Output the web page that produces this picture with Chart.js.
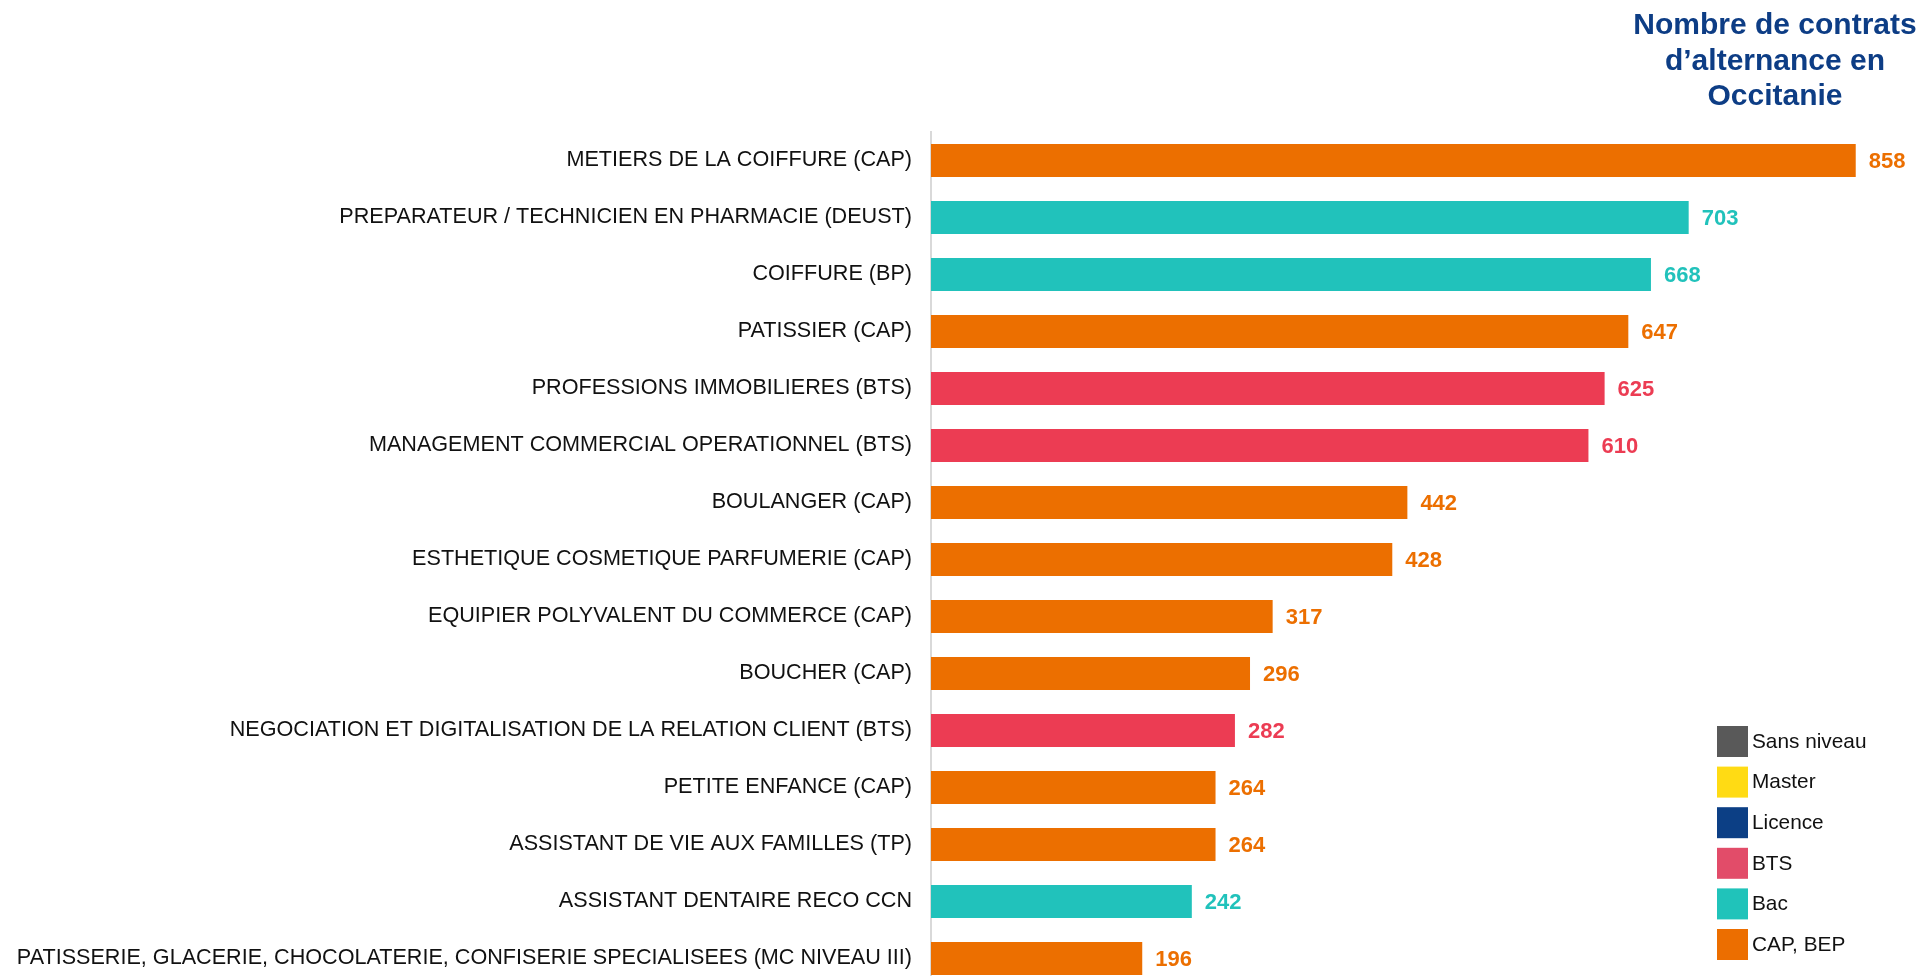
<!DOCTYPE html>
<html>
<head>
<meta charset="utf-8">
<script src="https://cdn.jsdelivr.net/npm/chart.js@4/dist/chart.umd.min.js"></script>
<style>
  html, body { margin: 0; padding: 0; background: #fff; overflow: hidden; }
  #wrap { position: relative; width: 1916px; height: 976px; overflow: hidden; }
  #c { position: absolute; left: 0; top: 0; width: 1916px; height: 1019px; }
</style>
</head>
<body>
<div id="wrap"><canvas id="c" width="1916" height="1019"></canvas></div>
<script>
const categories = [
  "METIERS DE LA COIFFURE (CAP)",
  "PREPARATEUR / TECHNICIEN EN PHARMACIE (DEUST)",
  "COIFFURE (BP)",
  "PATISSIER (CAP)",
  "PROFESSIONS IMMOBILIERES (BTS)",
  "MANAGEMENT COMMERCIAL OPERATIONNEL (BTS)",
  "BOULANGER (CAP)",
  "ESTHETIQUE COSMETIQUE PARFUMERIE (CAP)",
  "EQUIPIER POLYVALENT DU COMMERCE (CAP)",
  "BOUCHER (CAP)",
  "NEGOCIATION ET DIGITALISATION DE LA RELATION CLIENT (BTS)",
  "PETITE ENFANCE (CAP)",
  "ASSISTANT DE VIE AUX FAMILLES (TP)",
  "ASSISTANT DENTAIRE RECO CCN",
  "PATISSERIE, GLACERIE, CHOCOLATERIE, CONFISERIE SPECIALISEES (MC NIVEAU III)"
];
const values = [858, 703, 668, 647, 625, 610, 442, 428, 317, 296, 282, 264, 264, 242, 196];
const barLevels = ["CAP, BEP", "Bac", "Bac", "CAP, BEP", "BTS", "BTS", "CAP, BEP", "CAP, BEP", "CAP, BEP", "CAP, BEP", "BTS", "CAP, BEP", "CAP, BEP", "Bac", "CAP, BEP"];
const legendLevels = ["Sans niveau", "Master", "Licence", "BTS", "Bac", "CAP, BEP"];
const legendColors = ["#595959", "#ffdb14", "#0c3f85", "#e24c69", "#20c3ba", "#ec6e00"];
const barColorByLevel = { "Sans niveau": "#595959", "Master": "#ffdb14", "Licence": "#0c3f85", "BTS": "#ec3c53", "Bac": "#21c2bb", "CAP, BEP": "#ec6f00" };
const titleLines = ["Nombre de contrats", "d\u2019alternance en", "Occitanie"];

const FONT = "'Liberation Sans', Arial, sans-serif";
const barColors = barLevels.map(l => barColorByLevel[l]);

const extras = {
  id: 'extras',
  afterDatasetsDraw(chart) {
    const ctx = chart.ctx;
    const meta = chart.getDatasetMeta(0);
    ctx.save();
    ctx.font = "bold 22px " + FONT;
    ctx.textBaseline = 'middle';
    ctx.textAlign = 'left';
    meta.data.forEach((bar, i) => {
      ctx.fillStyle = barColors[i];
      ctx.fillText(String(values[i]), bar.x + 13, bar.y + 1);
    });
    ctx.restore();
  },
  afterDraw(chart) {
    const ctx = chart.ctx;
    ctx.save();
    ctx.font = "bold 30px " + FONT;
    ctx.fillStyle = "#0d3d85";
    ctx.textAlign = 'center';
    ctx.textBaseline = 'middle';
    titleLines.forEach((t, i) => ctx.fillText(t, 1775, 26 + i * 35.5));
    ctx.font = "20.8px " + FONT;
    ctx.textAlign = 'left';
    legendLevels.forEach((l, i) => {
      const y = 726 + i * 40.6;
      ctx.fillStyle = legendColors[i];
      ctx.fillRect(1717, y, 31, 31);
      ctx.fillStyle = "#111";
      ctx.fillText(l, 1752, y + 16);
    });
    ctx.restore();
  }
};

new Chart(document.getElementById('c'), {
  type: 'bar',
  data: {
    labels: categories,
    datasets: [{
      data: values,
      backgroundColor: barColors,
      borderWidth: 0,
      barPercentage: 0.58,
      categoryPercentage: 1.0
    }]
  },
  options: {
    indexAxis: 'y',
    responsive: false,
    maintainAspectRatio: false,
    animation: false,
    layout: { padding: { left: 0, right: 15, top: 132, bottom: 3 } },
    plugins: { legend: { display: false }, tooltip: { enabled: false } },
    scales: {
      x: { display: false, min: 0, max: 900 },
      y: {
        afterFit(s) { s.width = 931; },
        grid: { display: true, color: 'rgba(0,0,0,0)', drawTicks: false },
        border: { display: true, color: '#d9d9d9', width: 2 },
        ticks: { color: '#111', padding: 19, font: { family: FONT, size: 21.6 } }
      }
    }
  },
  plugins: [extras]
});
</script>
</body>
</html>
